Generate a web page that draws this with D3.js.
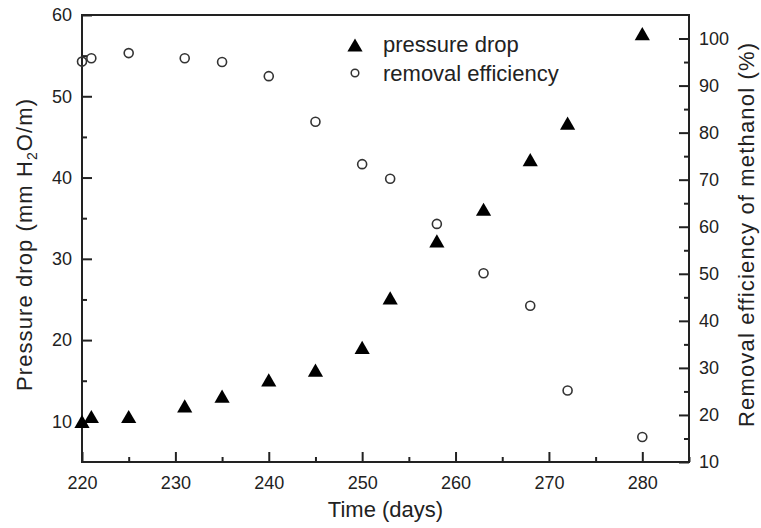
<!DOCTYPE html>
<html>
<head>
<meta charset="utf-8">
<script src="https://cdn.jsdelivr.net/npm/d3@7"></script>
<style>
body { margin: 0; background: #fff; }
text { font-family: "Liberation Sans", Arial, Helvetica, sans-serif; fill: #222; }
.axis path { display: none; }
.axis line { stroke: #222; stroke-width: 2; }
</style>
</head>
<body>
<div class="container"></div>
<script>
// pressure drop (left axis, mm H2O/m)
var pdDays = [220, 221, 225, 231, 235, 240, 245, 250, 253, 258, 263, 268, 272, 280];
var pdValues = [10, 10.6, 10.6, 11.9, 13.1, 15.1, 16.3, 19.1, 25.2, 32.2, 36.1, 42.2, 46.7, 57.7];

// removal efficiency (right axis, %)
var reDays = [220, 221, 225, 231, 235, 240, 245, 250, 253, 258, 263, 268, 272, 280];
var reValues = [95.1, 95.8, 96.9, 95.8, 95.0, 92.0, 82.3, 73.3, 70.2, 60.6, 50.1, 43.2, 25.2, 15.3];

var xTicks = [220, 230, 240, 250, 260, 270, 280];
var xMinor = [225, 235, 245, 255, 265, 275, 285];
var leftTicks = [10, 20, 30, 40, 50, 60];
var leftMinor = [15, 25, 35, 45, 55];
var rightTicks = [10, 20, 30, 40, 50, 60, 70, 80, 90, 100];
var rightMinor = [15, 25, 35, 45, 55, 65, 75, 85, 95];

var legendNames = ["pressure drop", "removal efficiency"];

const WIDTH = 761;
const HEIGHT = 528;
const M = {left: 82, top: 15, right: 72, bottom: 66};
const W = WIDTH - M.left - M.right;
const H = HEIGHT - M.top - M.bottom;

var translate = function(x, y){
	return "translate(" + x + "," + y + ")";
};

var svg = d3.select('.container').append('svg')
	.attr('width', WIDTH)
	.attr('height', HEIGHT);

var xScale = d3.scaleLinear().domain([220, 285]).range([0, W]);
var yLeft = d3.scaleLinear().domain([5, 60]).range([H, 0]);
var yRight = d3.scaleLinear().domain([10, 105]).range([H, 0]);

var g = svg.append('g').attr('transform', translate(M.left, M.top));

// major + minor ticks, pointing inward
var addAxis = function(axisFn, scale, major, minor, tr){
	var a = g.append('g').classed('axis', true).attr('transform', tr)
		.call(axisFn(scale).tickValues(major).tickSizeInner(-10).tickSizeOuter(0).tickPadding(10));
	a.selectAll('text').style('font-size', '18px');
	g.append('g').classed('axis', true).attr('transform', tr)
		.call(axisFn(scale).tickValues(minor).tickSizeInner(-5).tickSizeOuter(0).tickFormat(''));
	return a;
};

addAxis(d3.axisBottom, xScale, xTicks, xMinor, translate(0, H))
	.selectAll('text').attr('dy', '0.95em');
addAxis(d3.axisLeft, yLeft, leftTicks, leftMinor, translate(0, 0));
addAxis(d3.axisRight, yRight, rightTicks, rightMinor, translate(W, 0));

g.append('rect')
	.attr('width', W).attr('height', H)
	.attr('fill', 'none').attr('stroke', '#222').attr('stroke-width', 2);

var TRI_SIZE = 100;
var tri = d3.symbol().type(d3.symbolTriangle).size(TRI_SIZE);
// d3 triangles sit on their centroid; shift so the box centre is on the value
var triShift = Math.sqrt(TRI_SIZE / (3 * Math.sqrt(3))) / 2;

// removal efficiency circles
g.selectAll('circle.re').data(reDays)
	.enter().append('circle').classed('re', true)
	.attr('cx', function(d){ return xScale(d); })
	.attr('cy', function(d, i){ return yRight(reValues[i]); })
	.attr('r', 4.5)
	.attr('fill', 'none').attr('stroke', '#333').attr('stroke-width', 1.6);

// pressure drop triangles
g.selectAll('path.pd').data(pdDays)
	.enter().append('path').classed('pd', true)
	.attr('d', tri)
	.attr('transform', function(d, i){ return translate(xScale(d), yLeft(pdValues[i]) + triShift); })
	.attr('fill', '#000');

// legend
var lg = svg.append('g').attr('transform', translate(355, 45));
lg.append('path').attr('d', tri).attr('transform', translate(0, triShift)).attr('fill', '#000');
lg.append('circle').attr('cy', 28).attr('r', 3.8)
	.attr('fill', 'none').attr('stroke', '#333').attr('stroke-width', 1.5);
lg.selectAll('text').data(legendNames)
	.enter().append('text')
	.attr('x', 28)
	.attr('y', function(d, i){ return 7 + i * 29; })
	.style('font-size', '22px')
	.text(function(d){ return d; });

// axis titles
svg.append('text')
	.attr('x', M.left + W / 2).attr('y', 517)
	.attr('text-anchor', 'middle')
	.style('font-size', '22px')
	.text('Time (days)');

var lt = svg.append('text')
	.attr('transform', translate(32, 245) + ' rotate(-90)')
	.attr('text-anchor', 'middle')
	.attr('textLength', 292).attr('lengthAdjust', 'spacing')
	.style('font-size', '22px');
lt.append('tspan').text('Pressure drop (mm H');
lt.append('tspan').attr('dy', 5).style('font-size', '14px').text('2');
lt.append('tspan').attr('dy', -5).text('O/m)');

svg.append('text')
	.attr('transform', translate(754, 235) + ' rotate(-90)')
	.attr('text-anchor', 'middle')
	.attr('textLength', 384).attr('lengthAdjust', 'spacing')
	.style('font-size', '22px')
	.text('Removal efficiency of methanol (%)');
</script>
</body>
</html>
